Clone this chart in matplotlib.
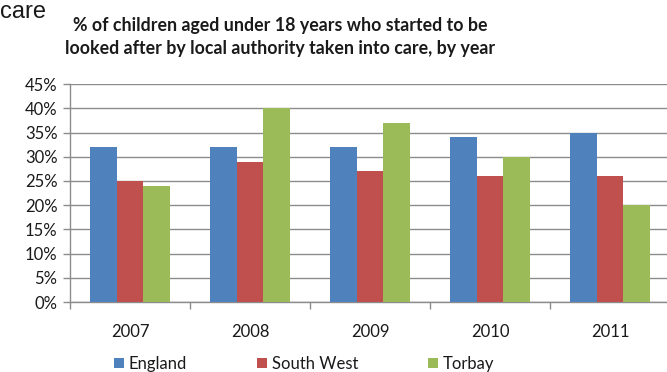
import numpy as np
import matplotlib.pyplot as plt
from matplotlib.ticker import PercentFormatter

# data (% of children taken into care)
years = ['2007', '2008', '2009', '2010', '2011']
england = [32, 32, 32, 34, 35]
south_west = [25, 29, 27, 26, 26]
torbay = [24, 40, 37, 30, 20]

series = ['England', 'South West', 'Torbay']
colors = ['#4F81BD', '#C0504D', '#9BBB59']

plt.rcParams['font.family'] = ['Lato', 'DejaVu Sans']

fig = plt.figure(figsize=(6.67, 3.72), dpi=100)
ax = fig.add_axes([0.105, 0.188, 0.8996, 0.586])

x = np.arange(len(years))
w = 0.222
for i, (vals, c) in enumerate(zip([england, south_west, torbay], colors)):
    ax.bar(x + (i - 1) * w, vals, width=w, color=c, label=series[i], zorder=3)

ax.set_ylim(0, 45)
ax.set_xlim(-0.5, len(years) - 0.5)
ax.set_yticks(np.arange(0, 46, 5))
ax.yaxis.set_major_formatter(PercentFormatter(decimals=0))
ax.grid(axis='y', color='#8c8c8c', linewidth=1.0, zorder=0)

# category ticks sit between the groups, labels centred under them
ax.set_xticks(np.arange(len(years) + 1) - 0.5)
ax.set_xticklabels([])
ax.set_xticks(x, minor=True)
ax.set_xticklabels(years, minor=True)
ax.tick_params(axis='x', which='minor', length=0, pad=16, labelsize=12, labelcolor='#1a1a1a')
ax.tick_params(axis='x', which='major', length=5, color='#8c8c8c', width=1)
ax.tick_params(axis='y', length=5, color='#8c8c8c', width=1, labelsize=12, labelcolor='#1a1a1a', pad=4)

for s in ['top', 'right']:
    ax.spines[s].set_visible(False)
for s in ['left', 'bottom']:
    ax.spines[s].set_color('#8c8c8c')
    ax.spines[s].set_linewidth(1)

fig.text(0.42, 0.90, '% of children aged under 18 years who started to be\n'
         'looked after by local authority taken into care, by year',
         ha='center', va='center', fontsize=12.8, fontweight='bold',
         linespacing=1.4, color='#1a1a1a')

# leftover heading from the surrounding page
fig.text(0.0, 0.997, 'care', ha='left', va='top', fontsize=17,
         family='Liberation Sans', color='#1a1a1a')

fig.legend(loc='center', bbox_to_anchor=(0.456, 0.022), ncol=3, frameon=False,
           fontsize=12, handlelength=0.6, handleheight=0.6, handletextpad=0.3,
           columnspacing=4.2, labelcolor='#1a1a1a')

fig.savefig('out.png', dpi=100)
